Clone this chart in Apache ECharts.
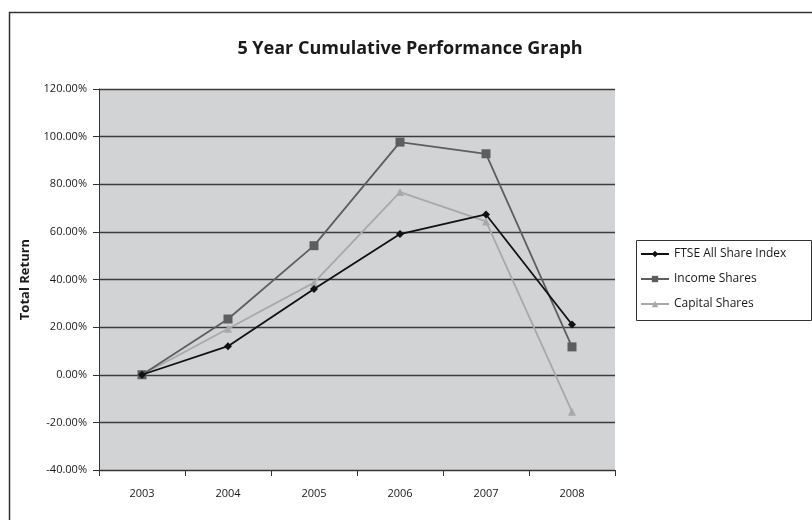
<!DOCTYPE html>
<html>
<head>
<meta charset="utf-8">
<script src="https://cdn.jsdelivr.net/npm/echarts@6/dist/echarts.min.js"></script>
<style>
  html, body { margin: 0; padding: 0; background: #ffffff; }
  #chart { width: 812px; height: 520px; }
</style>
</head>
<body>
<div id="chart"></div>
<script>
// Years on the category axis
const years = ['2003', '2004', '2005', '2006', '2007', '2008'];

// Cumulative total return (%) for each series
const ftseAllShare = [0, 12.0, 36.0, 59.1, 67.3, 21.1];
const incomeShares = [0, 23.4, 54.2, 97.7, 92.8, 11.7];
const capitalShares = [0, 19.3, 38.7, 76.7, 64.4, -15.5];

// Value axis range and step (%)
const yMin = -40;
const yMax = 120;
const yStep = 20;

const FONT = '"Open Sans", "Noto Sans", sans-serif';

const chart = echarts.init(document.getElementById('chart'), null, { renderer: 'canvas' });

chart.setOption({
  animation: false,
  backgroundColor: '#ffffff',
  textStyle: { fontFamily: FONT },
  title: {
    text: '5 Year Cumulative Performance Graph',
    left: 405,
    top: 35,
    textAlign: 'center',
    textStyle: { fontFamily: FONT, fontSize: 18, fontWeight: 'bold', color: '#1a1a1a' }
  },
  grid: {
    left: 99,
    right: 197,
    top: 89,
    bottom: 50,
    show: true,
    backgroundColor: '#d2d3d5',
    borderWidth: 0
  },
  legend: {
    orient: 'vertical',
    left: 640,
    top: 248,
    itemWidth: 28,
    itemHeight: 8,
    itemGap: 13,
    padding: 0,
    textStyle: { fontFamily: FONT, fontSize: 12, color: '#1a1a1a' },
    data: ['FTSE All Share Index', 'Income Shares', 'Capital Shares']
  },
  xAxis: {
    type: 'category',
    data: years,
    boundaryGap: true,
    axisLine: { show: true, onZero: false, lineStyle: { color: '#333333', width: 1 } },
    axisTick: { show: true, alignWithLabel: false, length: 6, lineStyle: { color: '#333333' } },
    axisLabel: { fontFamily: FONT, fontSize: 11, color: '#1a1a1a', margin: 18 },
    splitLine: { show: false }
  },
  yAxis: {
    type: 'value',
    min: yMin,
    max: yMax,
    interval: yStep,
    name: 'Total Return',
    nameLocation: 'middle',
    nameGap: 67,
    nameTextStyle: { fontFamily: FONT, fontSize: 13, fontWeight: 'bold', color: '#1a1a1a' },
    axisLine: { show: true, lineStyle: { color: '#333333', width: 1 } },
    axisTick: { show: true, length: 6, lineStyle: { color: '#333333' } },
    axisLabel: {
      fontFamily: FONT,
      fontSize: 11,
      color: '#1a1a1a',
      margin: 12,
      formatter: v => v.toFixed(2) + '%'
    },
    splitLine: { show: true, lineStyle: { color: '#3c3c3c', width: 1.3 } }
  },
  series: [
    {
      name: 'FTSE All Share Index',
      type: 'line',
      data: ftseAllShare,
      symbol: 'diamond',
      symbolSize: 8,
      color: '#111111',
      lineStyle: { color: '#111111', width: 1.8 },
      itemStyle: { color: '#111111' },
      z: 4
    },
    {
      name: 'Income Shares',
      type: 'line',
      data: incomeShares,
      symbol: 'rect',
      symbolSize: 9,
      color: '#5e5e60',
      lineStyle: { color: '#5e5e60', width: 1.8 },
      itemStyle: { color: '#5e5e60' },
      z: 3
    },
    {
      name: 'Capital Shares',
      type: 'line',
      data: capitalShares,
      symbol: 'triangle',
      symbolSize: 8,
      color: '#a9a9ab',
      lineStyle: { color: '#a9a9ab', width: 1.8 },
      itemStyle: { color: '#a9a9ab' },
      z: 2
    }
  ],
  graphic: [
    {
      // outer chart frame
      type: 'rect',
      left: 7,
      top: 10,
      shape: { x: 0, y: 0, width: 830, height: 540 },
      style: { fill: null, stroke: '#333333', lineWidth: 1.5 },
      silent: true,
      z: 10
    },
    {
      // legend box
      type: 'rect',
      left: 636,
      top: 240,
      shape: { x: 0, y: 0, width: 175, height: 80 },
      style: { fill: '#ffffff', stroke: '#333333', lineWidth: 1 },
      silent: true,
      z: -1
    }
  ]
});
</script>
</body>
</html>
